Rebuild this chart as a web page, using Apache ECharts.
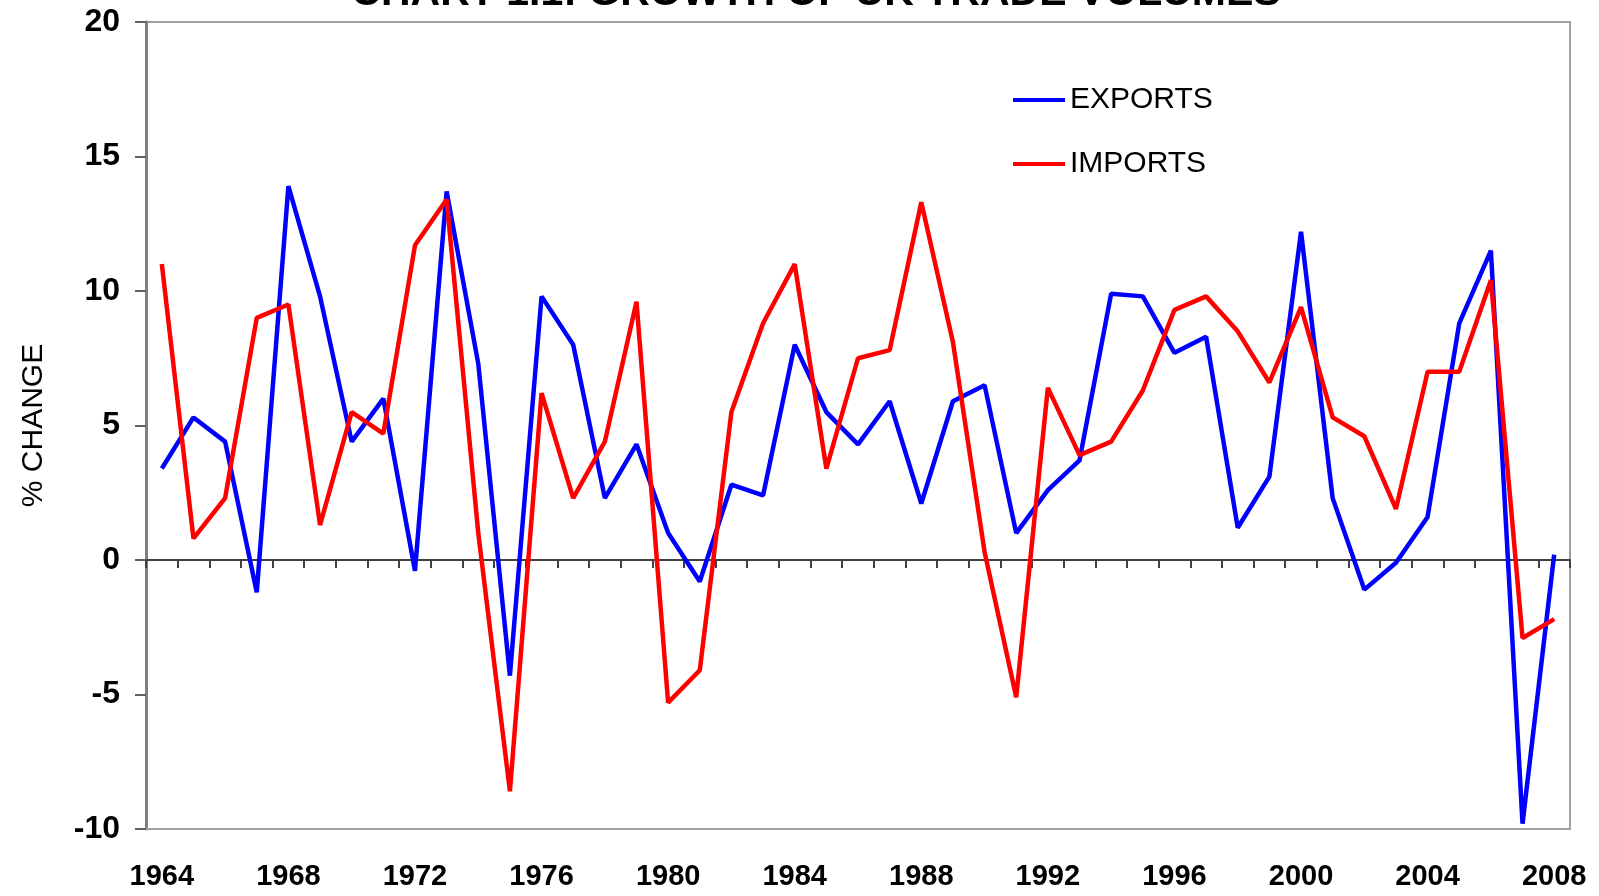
<!DOCTYPE html>
<html>
<head>
<meta charset="utf-8">
<script src="https://cdn.jsdelivr.net/npm/echarts@6/dist/echarts.min.js"></script>
<style>
  html, body { margin: 0; padding: 0; background: #fff; }
  #chart { width: 1599px; height: 896px; }
</style>
</head>
<body>
<div id="chart"></div>
<script>
const years = [];
for (let y = 1964; y <= 2008; y++) years.push(String(y));

// annual % change
const exportsData = [
  3.4, 5.3, 4.4, -1.2, 13.9, 9.8, 4.4, 6.0, -0.4, 13.7,
  7.3, -4.3, 9.8, 8.0, 2.3, 4.3, 1.0, -0.8, 2.8, 2.4,
  8.0, 5.5, 4.3, 5.9, 2.1, 5.9, 6.5, 1.0, 2.6, 3.7,
  9.9, 9.8, 7.7, 8.3, 1.2, 3.1, 12.2, 2.3, -1.1, -0.1,
  1.6, 8.8, 11.5, -9.8, 0.2
];
const importsData = [
  11.0, 0.8, 2.3, 9.0, 9.5, 1.3, 5.5, 4.7, 11.7, 13.4,
  1.0, -8.6, 6.2, 2.3, 4.4, 9.6, -5.3, -4.1, 5.5, 8.8,
  11.0, 3.4, 7.5, 7.8, 13.3, 8.1, 0.3, -5.1, 6.4, 3.9,
  4.4, 6.3, 9.3, 9.8, 8.5, 6.6, 9.4, 5.3, 4.6, 1.9,
  7.0, 7.0, 10.4, -2.9, -2.2
];

const chart = echarts.init(document.getElementById('chart'));

chart.setOption({
  animation: false,
  title: {
    text: 'CHART 1.1: GROWTH OF UK TRADE VOLUMES',
    left: 811,
    textAlign: 'center',
    top: -32,
    textStyle: {
      fontFamily: 'Liberation Sans',
      fontSize: 41,
      fontWeight: 'bold',
      color: '#000'
    }
  },
  legend: {
    orient: 'vertical',
    left: 1008,
    top: 80,
    itemWidth: 52,
    itemHeight: 4,
    itemGap: 34,
    icon: 'rect',
    data: ['EXPORTS', 'IMPORTS'],
    textStyle: {
      fontFamily: 'Liberation Sans',
      fontSize: 30,
      color: '#000'
    }
  },
  grid: {
    left: 146,
    right: 29,
    top: 22,
    bottom: 67,
    outerBoundsMode: 'none',
    show: true,
    borderColor: '#a0a0a0',
    borderWidth: 2
  },
  xAxis: [
    {
      type: 'category',
      data: years,
      position: 'bottom',
      boundaryGap: true,
      axisLine: { onZero: false, lineStyle: { color: '#a0a0a0', width: 2 } },
      axisTick: { show: false },
      axisLabel: {
        interval: 3,
        margin: 33,
        fontFamily: 'Liberation Sans',
        fontSize: 29,
        fontWeight: 'bold',
        color: '#000'
      },
      splitLine: { show: false }
    },
    {
      type: 'category',
      data: years,
      position: 'bottom',
      boundaryGap: true,
      axisLine: { onZero: true, lineStyle: { color: '#404040', width: 2 } },
      axisTick: { show: true, interval: 0, length: 8, lineStyle: { color: '#404040', width: 2 } },
      axisLabel: { show: false },
      splitLine: { show: false }
    }
  ],
  yAxis: {
    type: 'value',
    min: -10,
    max: 20,
    interval: 5,
    name: '% CHANGE',
    nameLocation: 'middle',
    nameRotate: 90,
    nameGap: 97,
    nameTextStyle: {
      fontFamily: 'Liberation Sans',
      fontSize: 30,
      color: '#000'
    },
    axisLine: { show: true, lineStyle: { color: '#808080', width: 3 } },
    axisTick: { show: true, length: 11, lineStyle: { color: '#606060', width: 2 } },
    axisLabel: {
      margin: 26,
      fontFamily: 'Liberation Sans',
      fontSize: 32,
      fontWeight: 'bold',
      color: '#000'
    },
    splitLine: { show: false }
  },
  series: [
    {
      name: 'EXPORTS',
      type: 'line',
      xAxisIndex: 0,
      data: exportsData,
      showSymbol: false,
      symbol: 'none',
      color: '#0000ff',
      lineStyle: { color: '#0000ff', width: 4.5 }
    },
    {
      name: 'IMPORTS',
      type: 'line',
      xAxisIndex: 0,
      data: importsData,
      showSymbol: false,
      symbol: 'none',
      color: '#ff0000',
      lineStyle: { color: '#ff0000', width: 4.5 }
    }
  ]
});
</script>
</body>
</html>
